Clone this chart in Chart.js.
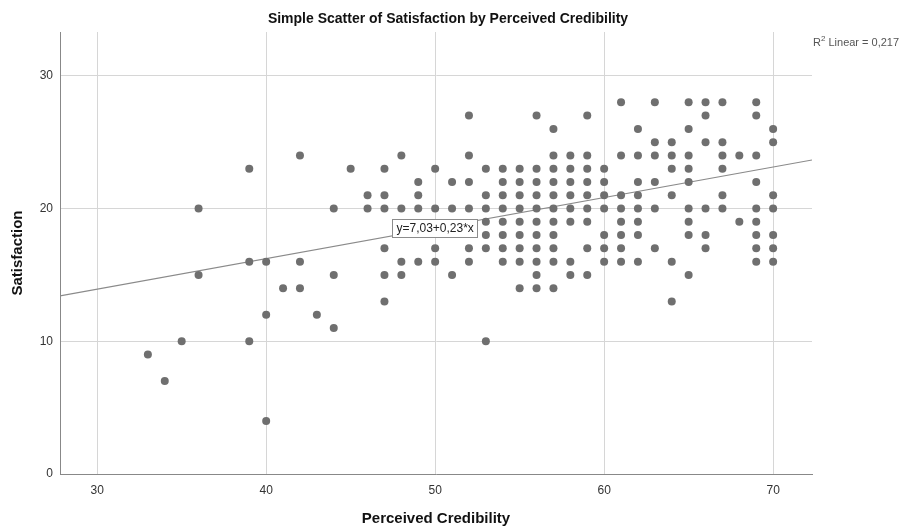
<!DOCTYPE html>
<html lang="en">
<head>
  <meta charset="UTF-8">
  <title>Simple Scatter of Satisfaction by Perceived Credibility</title>
  <script src="https://cdn.jsdelivr.net/npm/chart.js"></script>
  <style>
    body {
      margin: 0;
      padding: 0;
      background: #ffffff;
    }
    .chart-wrap {
      width: 908px;
      height: 529px;
    }
  </style>
</head>
<body>

<div class="chart-wrap">
  <canvas id="scatterChart" width="908" height="529"></canvas>
</div>

<script>
  // respondents: perceived credibility score and satisfaction score
  const credibility = [
    33, 34, 35, 36, 36, 39, 39, 39, 40, 40, 40, 41, 42, 42, 42, 43, 44, 44, 44, 45,
    46, 46, 47, 47, 47, 47, 47, 47, 48, 48, 48, 48, 49, 49, 49, 49, 50, 50, 50, 50,
    51, 51, 51,
    52, 52, 52, 52, 52, 52,
    53, 53, 53, 53, 53, 53, 53,
    54, 54, 54, 54, 54, 54, 54, 54,
    55, 55, 55, 55, 55, 55, 55, 55, 55,
    56, 56, 56, 56, 56, 56, 56, 56, 56, 56, 56,
    57, 57, 57, 57, 57, 57, 57, 57, 57, 57, 57,
    58, 58, 58, 58, 58, 58, 58, 58,
    59, 59, 59, 59, 59, 59, 59, 59, 59,
    60, 60, 60, 60, 60, 60, 60,
    61, 61, 61, 61, 61, 61, 61, 61,
    62, 62, 62, 62, 62, 62, 62, 62,
    63, 63, 63, 63, 63, 63,
    64, 64, 64, 64, 64, 64,
    65, 65, 65, 65, 65, 65, 65, 65, 65,
    66, 66, 66, 66, 66, 66,
    67, 67, 67, 67, 67, 67,
    68, 68,
    69, 69, 69, 69, 69, 69, 69, 69, 69,
    70, 70, 70, 70, 70, 70, 70
  ];
  const satisfaction = [
    9, 7, 10, 20, 15, 23, 16, 10, 16, 12, 4, 14, 24, 16, 14, 12, 20, 15, 11, 23,
    21, 20, 23, 21, 20, 17, 15, 13, 24, 20, 16, 15, 22, 21, 20, 16, 23, 20, 17, 16,
    22, 20, 15,
    27, 24, 22, 20, 17, 16,
    23, 21, 20, 19, 18, 17, 10,
    23, 22, 21, 20, 19, 18, 17, 16,
    23, 22, 21, 20, 19, 18, 17, 16, 14,
    27, 23, 22, 21, 20, 19, 18, 17, 16, 15, 14,
    26, 24, 23, 22, 21, 20, 19, 18, 17, 16, 14,
    24, 23, 22, 21, 20, 19, 16, 15,
    27, 24, 23, 22, 21, 20, 19, 17, 15,
    23, 22, 21, 20, 18, 17, 16,
    28, 24, 21, 20, 19, 18, 17, 16,
    26, 24, 22, 21, 20, 19, 18, 16,
    28, 25, 24, 22, 20, 17,
    25, 24, 23, 21, 16, 13,
    28, 26, 24, 23, 22, 20, 19, 18, 15,
    28, 27, 25, 20, 18, 17,
    28, 25, 24, 23, 21, 20,
    24, 19,
    28, 27, 24, 22, 20, 19, 18, 17, 16,
    26, 25, 21, 20, 18, 17, 16
  ];

  // axis ticks
  const xTicks = [30, 40, 50, 60, 70];
  const yTicks = [0, 10, 20, 30];

  // fitted linear model
  const intercept = 7.03;
  const slope = 0.23;
  const rSquared = 0.217;

  const xMin = 27.8, xMax = 72.3;
  const yMin = 0, yMax = 33.3;

  const points = credibility.map((c, i) => ({ x: c, y: satisfaction[i] }));
  const fitLine = [xMin, xMax].map(x => ({ x: x, y: intercept + slope * x }));

  const fontFamily = "Arial, 'Liberation Sans', sans-serif";
  const comma = v => String(v).replace('.', ',');

  // title, R² note and equation label drawn on top of the plot
  const annotations = {
    id: 'annotations',
    afterDatasetsDraw(chart) {
      const ctx = chart.ctx;
      const xs = chart.scales.x, ys = chart.scales.y;
      ctx.save();

      // equation box sitting on the fit line at x = 50
      const label = 'y=' + comma(intercept.toFixed(2)) + '+' + comma(slope.toFixed(2)) + '*x';
      ctx.font = '12px ' + fontFamily;
      const w = ctx.measureText(label).width + 8;
      const h = 18;
      const cx = xs.getPixelForValue(50);
      const cy = ys.getPixelForValue(intercept + slope * 50);
      ctx.fillStyle = '#ffffff';
      ctx.fillRect(Math.round(cx - w / 2) + 0.5, Math.round(cy - h / 2) + 0.5, Math.round(w), h);
      ctx.strokeStyle = '#8c8c8c';
      ctx.lineWidth = 1;
      ctx.strokeRect(Math.round(cx - w / 2) + 0.5, Math.round(cy - h / 2) + 0.5, Math.round(w), h);
      ctx.fillStyle = '#222222';
      ctx.textAlign = 'center';
      ctx.textBaseline = 'middle';
      ctx.fillText(label, cx, cy + 1);

      // chart title
      ctx.font = 'bold 14px ' + fontFamily;
      ctx.fillStyle = '#111111';
      ctx.fillText('Simple Scatter of Satisfaction by Perceived Credibility', 448, 19);

      // R² note, top right
      ctx.textAlign = 'left';
      ctx.textBaseline = 'alphabetic';
      ctx.fillStyle = '#555555';
      let px = 813;
      ctx.font = '11px ' + fontFamily;
      ctx.fillText('R', px, 46);
      px += ctx.measureText('R').width;
      ctx.font = '8px ' + fontFamily;
      ctx.fillText('2', px, 41);
      px += ctx.measureText('2').width;
      ctx.font = '11px ' + fontFamily;
      ctx.fillText(' Linear = ' + comma(rSquared), px, 46);

      ctx.restore();
    }
  };

  const ctxScatter = document.getElementById('scatterChart').getContext('2d');
  const scatterChart = new Chart(ctxScatter, {
    type: 'scatter',
    data: {
      datasets: [
        {
          label: 'Fit',
          type: 'line',
          data: fitLine,
          borderColor: '#8a8a8a',
          borderWidth: 1.2,
          pointRadius: 0,
          fill: false,
          order: 2
        },
        {
          label: 'Satisfaction',
          data: points,
          backgroundColor: '#6f6f6f',
          borderColor: '#6f6f6f',
          borderWidth: 0,
          pointRadius: 4,
          order: 1
        }
      ]
    },
    options: {
      responsive: false,
      animation: false,
      layout: {
        padding: { top: 32, right: 96, bottom: 0, left: 0 }
      },
      plugins: {
        legend: { display: false },
        tooltip: { enabled: false },
        title: { display: false }
      },
      scales: {
        x: {
          type: 'linear',
          min: xMin,
          max: xMax,
          afterBuildTicks: scale => { scale.ticks = xTicks.map(v => ({ value: v })); },
          afterFit: scale => { scale.height = 55; },
          grid: { color: '#d6d6d6', drawTicks: false },
          border: { color: '#888888' },
          ticks: {
            padding: 9,
            color: '#333333',
            font: { family: fontFamily, size: 12 }
          },
          title: {
            display: true,
            text: 'Perceived Credibility',
            color: '#111111',
            font: { family: fontFamily, size: 15, weight: 'bold' },
            padding: { top: 0, bottom: 1 }
          }
        },
        y: {
          type: 'linear',
          min: yMin,
          max: yMax,
          afterBuildTicks: scale => { scale.ticks = yTicks.map(v => ({ value: v })); },
          afterFit: scale => { scale.width = 60; },
          grid: { color: '#d6d6d6', drawTicks: false },
          border: { color: '#888888' },
          ticks: {
            padding: 7,
            color: '#333333',
            font: { family: fontFamily, size: 12 }
          },
          title: {
            display: true,
            text: 'Satisfaction',
            color: '#111111',
            font: { family: fontFamily, size: 15, weight: 'bold' },
            padding: { top: 9, bottom: 0 }
          }
        }
      }
    },
    plugins: [annotations]
  });
</script>

</body>
</html>
